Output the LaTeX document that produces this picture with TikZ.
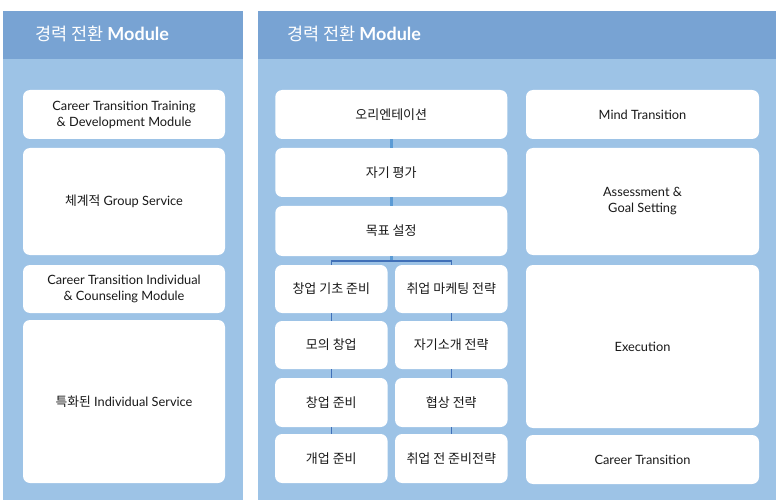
\documentclass[tikz,border=0pt]{standalone}
\usepackage{fontspec}
\setmainfont{Lato}
\newfontfamily\kr{Noto Sans CJK KR}
\definecolor{hdrblue}{RGB}{120,163,211}
\definecolor{bodyblue}{RGB}{157,195,230}
\definecolor{treeblue}{RGB}{64,112,184}
\definecolor{linkblue}{RGB}{91,155,213}
\definecolor{txt}{RGB}{25,25,25}
\tikzset{
  wbox/.style={fill=white, draw=none, rounded corners=7pt, align=center,
    text=txt, font=\fontsize{12.8}{16}\selectfont, inner sep=0pt},
  hdrtext/.style={anchor=west, text=white, inner sep=0pt},
  treeline/.style={draw=treeblue, line width=1.6pt},
  linkline/.style={draw=linkblue, line width=2.6pt}
}
\begin{document}
\begin{tikzpicture}[x=1pt,y=-1pt]
\useasboundingbox (0,0) rectangle (777,500);
% panels
\fill[bodyblue] (3,11) rectangle (243,500);
\fill[hdrblue] (3,11) rectangle (243,59);
\fill[bodyblue] (258,11) rectangle (776,500);
\fill[hdrblue] (258,11) rectangle (776,59);
\node[hdrtext] (hL) at (35,34) {\fontsize{17.5}{20}\selectfont\kr 경력 전환 \fontsize{18}{20}\selectfont\rmfamily\bfseries Module};
\node[hdrtext] (hR) at (287,34) {\fontsize{17.5}{20}\selectfont\kr 경력 전환 \fontsize{18}{20}\selectfont\rmfamily\bfseries Module};
% left column
\node[wbox, minimum width=202pt, minimum height=49pt] (L1) at (124,114.5) {Career Transition Training\\ \& Development Module};
\node[wbox, minimum width=202pt, minimum height=107pt] (L2) at (124,201.5) {{\kr 체계적} Group Service};
\node[wbox, minimum width=202pt, minimum height=48pt] (L3) at (124,289) {Career Transition Individual\\ \& Counseling Module};
\node[wbox, minimum width=202pt, minimum height=163pt] (L4) at (124,401.5) {{\kr 특화된} Individual Service};
% middle column
\tikzset{krbox/.style={wbox, font=\kr\fontsize{13}{16}\selectfont}}
\node[krbox, minimum width=232pt, minimum height=49pt] (O) at (391.25,114.5) {오리엔테이션};
\node[krbox, minimum width=232pt, minimum height=49pt] (S) at (391.25,172.5) {자기 평가};
\node[krbox, minimum width=232pt, minimum height=50pt] (G) at (391.25,231) {목표 설정};
\tikzset{sub/.style={krbox, minimum width=112.5pt}}
\node[sub, minimum height=48pt] (C1) at (331.3,289) {창업 기초 준비};
\node[sub, minimum height=48pt] (C2) at (331.3,345) {모의 창업};
\node[sub, minimum height=49pt] (C3) at (331.3,402.5) {창업 준비};
\node[sub, minimum height=49pt] (C4) at (331.3,458.5) {개업 준비};
\node[sub, minimum height=48pt] (J1) at (451.3,289) {취업 마케팅 전략};
\node[sub, minimum height=48pt] (J2) at (451.3,345) {자기소개 전략};
\node[sub, minimum height=49pt] (J3) at (451.3,402.5) {협상 전략};
\node[sub, minimum height=49pt] (J4) at (451.3,458.5) {취업 전 준비전략};
% right column
\node[wbox, minimum width=233pt, minimum height=49pt] (R1) at (642.5,114.5) {Mind Transition};
\node[wbox, minimum width=233pt, minimum height=107pt] (R2) at (642.5,201.5) {Assessment \&\\ Goal Setting};
\node[wbox, minimum width=233pt, minimum height=163pt] (R3) at (642.5,346.5) {Execution};
\node[wbox, minimum width=233pt, minimum height=49pt] (R4) at (642.5,459.5) {Career Transition};
% connectors
\coordinate (hb) at (391.25,261);
\draw[linkline] (O.south) -- (S.north);
\draw[linkline] (S.south) -- (G.north);
\draw[linkline] (G.south) -- (hb);
\draw[treeline] (C1.north) |- (hb) -| (J1.north);
\draw[treeline] (C1.south) -- (C2.north);
\draw[treeline] (C2.south) -- (C3.north);
\draw[treeline] (C3.south) -- (C4.north);
\draw[treeline] (J1.south) -- (J2.north);
\draw[treeline] (J2.south) -- (J3.north);
\draw[treeline] (J3.south) -- (J4.north);
\end{tikzpicture}
\end{document}
